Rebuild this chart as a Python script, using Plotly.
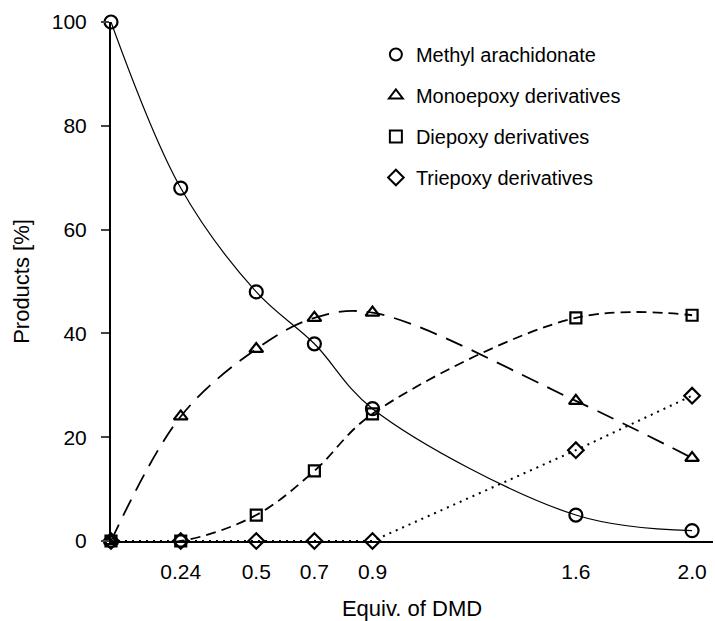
import plotly.graph_objects as go

equiv = [0, 0.24, 0.5, 0.7, 0.9, 1.6, 2.0]
methyl = [100, 68, 48, 38, 25.5, 5, 2]
mono = [0, 24, 37, 43, 44, 27, 16]
di = [0, 0, 5, 13.5, 24.5, 43, 43.5]
tri = [0, 0, 0, 0, 0, 17.5, 28]
tick_vals = [0.24, 0.5, 0.7, 0.9, 1.6, 2.0]
tick_text = ["0.24", "0.5", "0.7", "0.9", "1.6", "2.0"]

series = [
    ("Methyl arachidonate", methyl, "circle-open", "solid", 13, 1.2),
    ("Monoepoxy derivatives", mono, "triangle-up-open", "18px,10px", 12, 1.8),
    ("Diepoxy derivatives", di, "square-open", "10px,6px", 11, 1.8),
    ("Triepoxy derivatives", tri, "diamond-open", "2px,5px", 12, 2),
]

fig = go.Figure()
for i, (name, vals, sym, dash, msize, lw) in enumerate(series):
    if name == "Triepoxy derivatives":
        fig.add_trace(go.Scatter(x=equiv, y=vals, mode="lines",
                                 line=dict(color="black", width=lw, dash=dash),
                                 showlegend=False, cliponaxis=False))
    else:
        fig.add_trace(go.Scatter(x=equiv, y=vals, mode="lines",
                                 line=dict(color="black", width=lw, dash=dash,
                                           shape="spline", smoothing=1.0),
                                 showlegend=False, cliponaxis=False))
    fig.add_trace(go.Scatter(x=equiv, y=vals, mode="markers", name=name,
                             legendgroup=name,
                             marker=dict(symbol=sym, size=msize, color="black",
                                         line=dict(width=2.2, color="black")),
                             cliponaxis=False))

fig.update_layout(
    width=715, height=621,
    margin=dict(l=111, r=2, t=22, b=80),
    plot_bgcolor="white", paper_bgcolor="white",
    font=dict(family="Liberation Sans, Arial, sans-serif", color="black", size=20),
    legend=dict(x=0.44, y=0.975, xanchor="left", yanchor="top",
                font=dict(size=20), tracegroupgap=12, bgcolor="rgba(0,0,0,0)",
                itemsizing="constant"),
    xaxis=dict(range=[0, 2.072], tickvals=tick_vals, ticktext=tick_text,
               showgrid=False, zeroline=False, showline=True, linecolor="black",
               linewidth=1.5, ticks="outside", ticklen=11, tickcolor="rgba(0,0,0,0)",
               automargin=False,
               tickfont=dict(size=21),
               title=dict(text="Equiv. of DMD", standoff=20, font=dict(size=22))),
    yaxis=dict(range=[0, 100], tickvals=[0, 20, 40, 60, 80, 100],
               showgrid=False, zeroline=False, showline=True, linecolor="black",
               linewidth=2, ticks="outside", ticklen=8, tickwidth=1.5,
               ticklabelstandoff=10,
               automargin=False,
               tickfont=dict(size=21),
               title=dict(text="Products [%]", standoff=16, font=dict(size=22))),
)

fig.write_html("out.html", config={"displayModeBar": False},
               post_script="document.body.style.margin='0';")
